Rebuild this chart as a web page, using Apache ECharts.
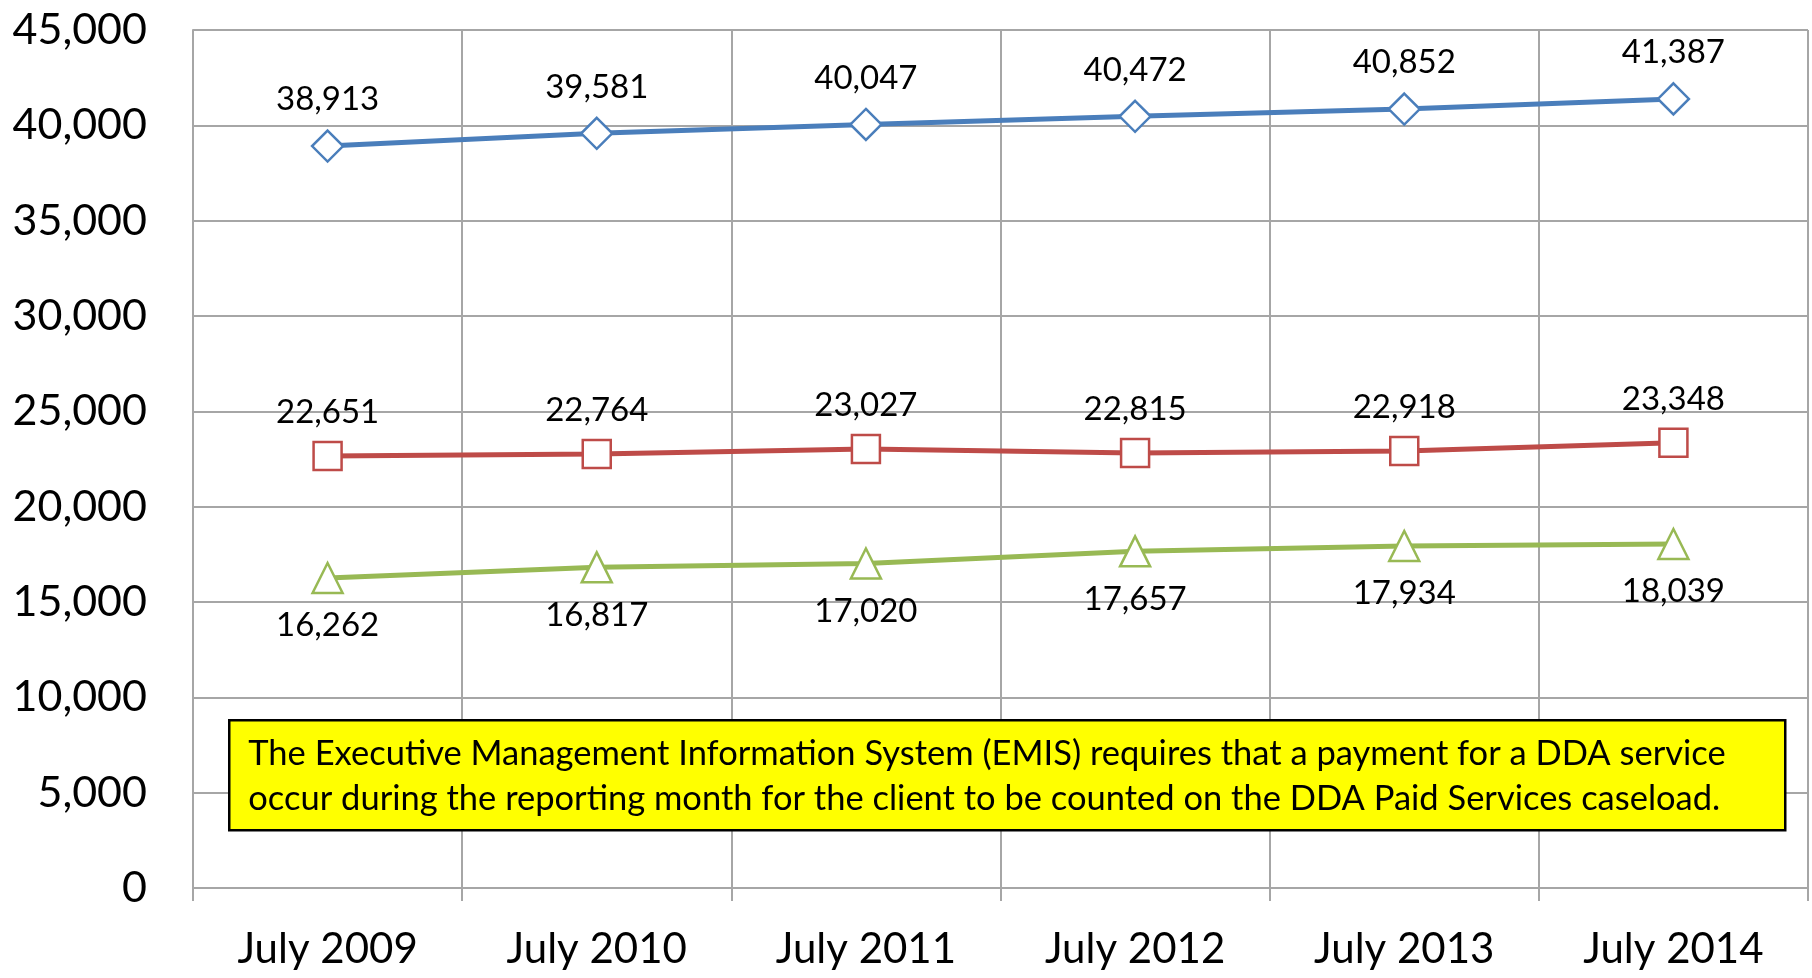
<!DOCTYPE html>
<html>
<head>
<meta charset="utf-8">
<script src="https://cdn.jsdelivr.net/npm/echarts@6/dist/echarts.min.js"></script>
<style>
  html, body { margin: 0; padding: 0; background: #fff; }
  #chart { width: 1812px; height: 978px; }
</style>
</head>
<body>
<div id="chart"></div>
<script>
// data
var years = ['July 2009', 'July 2010', 'July 2011', 'July 2012', 'July 2013', 'July 2014'];
var totalCases = [38913, 39581, 40047, 40472, 40852, 41387];
var paidServices = [22651, 22764, 23027, 22815, 22918, 23348];
var noPaidServices = [16262, 16817, 17020, 17657, 17934, 18039];
var yTicks = [0, 5000, 10000, 15000, 20000, 25000, 30000, 35000, 40000, 45000];

var note = 'The Executive Management Information System (EMIS) requires that a payment for a DDA service\n' +
  'occur during the reporting month for the client to be counted on the DDA Paid Services caseload.';

var FONT = 'Lato';
var chart = echarts.init(document.getElementById('chart'));

function lineSeries(name, data, color, symbol, size, pos, dist) {
  return {
    name: name,
    type: 'line',
    data: data,
    symbol: symbol,
    symbolSize: size,
    showAllSymbol: true,
    lineStyle: { color: color, width: 5 },
    itemStyle: { color: '#fff', borderColor: color, borderWidth: 2.5 },
    label: {
      show: true,
      position: pos,
      distance: dist,
      fontFamily: FONT,
      fontSize: 33,
      color: '#000',
      formatter: function (p) { return p.value.toLocaleString('en-US'); }
    },
    z: 3
  };
}

var option = {
  animation: false,
  backgroundColor: '#fff',
  grid: { left: 193, right: 4, top: 30, bottom: 90, containLabel: false },
  xAxis: {
    type: 'category',
    data: years,
    boundaryGap: true,
    axisLine: { show: true, lineStyle: { color: '#a6a6a6', width: 2 } },
    axisTick: { show: true, length: 13, lineStyle: { color: '#a6a6a6', width: 2 } },
    axisLabel: { fontFamily: FONT, fontSize: 42, color: '#000', margin: 40 },
    splitLine: { show: true, lineStyle: { color: '#a6a6a6', width: 2 } }
  },
  yAxis: {
    type: 'value',
    min: yTicks[0],
    max: yTicks[yTicks.length - 1],
    interval: 5000,
    axisLine: { show: true, lineStyle: { color: '#a6a6a6', width: 2 } },
    axisTick: { show: false },
    axisLabel: {
      fontFamily: FONT, fontSize: 43, color: '#000', margin: 46,
      formatter: function (v) { return v.toLocaleString('en-US'); }
    },
    splitLine: { show: true, lineStyle: { color: '#a6a6a6', width: 2 } }
  },
  series: [
    lineSeries('Total', totalCases, '#4a7ebb', 'diamond', 31, 'top', 13),
    lineSeries('Paid', paidServices, '#be4b48', 'rect', 28, 'top', 12),
    lineSeries('No Paid', noPaidServices, '#98b954', 'triangle', 30, 'bottom', 15)
  ],
  graphic: [{
    type: 'group',
    left: 228,
    top: 719,
    z: 100,
    children: [
      {
        type: 'rect',
        z: 100,
        shape: { x: 0, y: 0, width: 1556, height: 110 },
        style: { fill: '#ffff00', stroke: '#000', lineWidth: 2.5 }
      },
      {
        type: 'text',
        z: 101,
        left: 19,
        top: 11,
        style: {
          text: note,
          fontFamily: FONT,
          fontSize: 34.5,
          lineHeight: 45,
          fill: '#000'
        }
      }
    ]
  }]
};

chart.setOption(option);
window.onresize = function () { chart.resize(); };
</script>
</body>
</html>
